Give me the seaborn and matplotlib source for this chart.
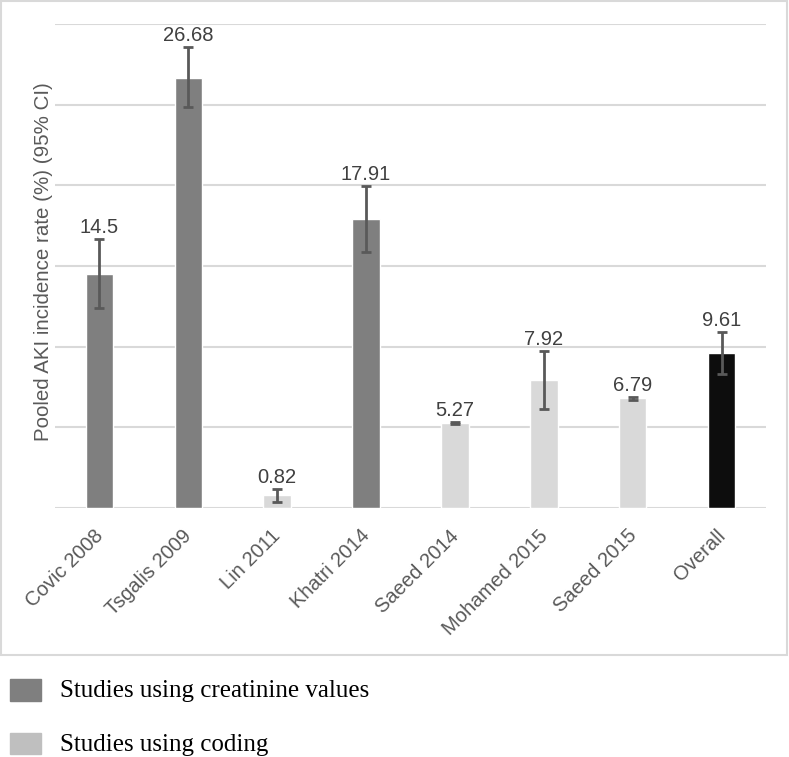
import matplotlib
matplotlib.use("Agg")
import matplotlib.pyplot as plt
import seaborn as sns
import pandas as pd
from matplotlib.patches import Rectangle
from matplotlib.transforms import ScaledTranslation

# ---- data ----
studies = ["Covic 2008", "Tsgalis 2009", "Lin 2011", "Khatri 2014",
           "Saeed 2014", "Mohamed 2015", "Saeed 2015", "Overall"]
rates = [14.5, 26.68, 0.82, 17.91, 5.27, 7.92, 6.79, 9.61]
ci_low = [12.4, 24.85, 0.4, 15.86, 5.22, 6.13, 6.68, 8.3]
ci_high = [16.67, 28.56, 1.18, 19.95, 5.32, 9.73, 6.9, 10.9]
groups = ["Creatinine", "Creatinine", "Coding", "Creatinine",
          "Coding", "Coding", "Coding", "Overall"]
legend_labels = ["Studies using creatinine values", "Studies using coding"]

df = pd.DataFrame({"study": studies, "rate": rates, "lo": ci_low,
                   "hi": ci_high, "group": groups})

sns.set_theme(style="white")
plt.rcParams["font.family"] = ["Liberation Sans", "DejaVu Sans"]

W, H = 789, 757
fig = plt.figure(figsize=(W / 100, H / 100), dpi=100)

def fx(px):
    return px / W

def fy(py):
    return 1 - py / H

# outer chart frame
fig.patches.append(Rectangle((fx(1), fy(655)), fx(786), 654 / H,
                             transform=fig.transFigure, fill=False,
                             edgecolor="#d9d9d9", lw=1.5))

ax = fig.add_axes([fx(55), fy(508), fx(766) - fx(55), (508 - 24) / H])

palette = {"Creatinine": "#7f7f7f", "Coding": "#d9d9d9", "Overall": "#0d0d0d"}
sns.barplot(data=df, x="study", y="rate", hue="group", palette=palette,
            dodge=False, width=0.31, legend=False, ax=ax, saturation=1,
            errorbar=None, zorder=3)

xs = range(len(studies))
yerr = [[r - l for r, l in zip(rates, ci_low)],
        [h - r for r, h in zip(rates, ci_high)]]
ax.errorbar(list(xs), rates, yerr=yerr, fmt="none", ecolor="#595959",
            elinewidth=2, capsize=3.5, capthick=2, zorder=4)

for x, h, v in zip(xs, ci_high, rates):
    ax.annotate(f"{v:g}", (x, h), xytext=(0, 1.5), textcoords="offset points",
                ha="center", va="bottom", fontsize=14.5, color="#404040",
                annotation_clip=False)

ax.set_ylim(0, 30)
ax.set_xlim(-0.5, len(studies) - 0.5)
ax.set_yticks([0, 5, 10, 15, 20, 25, 30])
ax.set_yticklabels([])
ax.yaxis.grid(True, color="#d9d9d9", lw=1.5, zorder=0)
ax.set_axisbelow(True)
for s in ax.spines.values():
    s.set_visible(False)
ax.tick_params(axis="both", length=0)
ax.set_xlabel("")
ax.set_ylabel("Pooled AKI incidence rate (%) (95% CI)", fontsize=14.8,
              color="#595959")
ax.yaxis.set_label_coords(-0.003, 0.51)
plt.setp(ax.get_xticklabels(), rotation=45, ha="right",
         rotation_mode="anchor", fontsize=14.5, color="#595959")
ax.tick_params(axis="x", pad=8)
offset = ScaledTranslation(-6 / 100, -7 / 100, fig.dpi_scale_trans)
for lab in ax.get_xticklabels():
    lab.set_transform(lab.get_transform() + offset)

# legend below the frame
leg_colors = ["#7f7f7f", "#bfbfbf"]
for (top, bot), c, lab in zip([(679, 701), (733, 754)], leg_colors, legend_labels):
    fig.patches.append(Rectangle((fx(10), fy(bot)), fx(31), (bot - top) / H,
                                 transform=fig.transFigure, color=c))
    fig.text(fx(60), fy((top + bot) / 2 + 1), lab, ha="left", va="center",
             fontsize=18, family=["Liberation Serif", "DejaVu Serif"],
             color="#000000")

fig.savefig("out.png", dpi=100)
